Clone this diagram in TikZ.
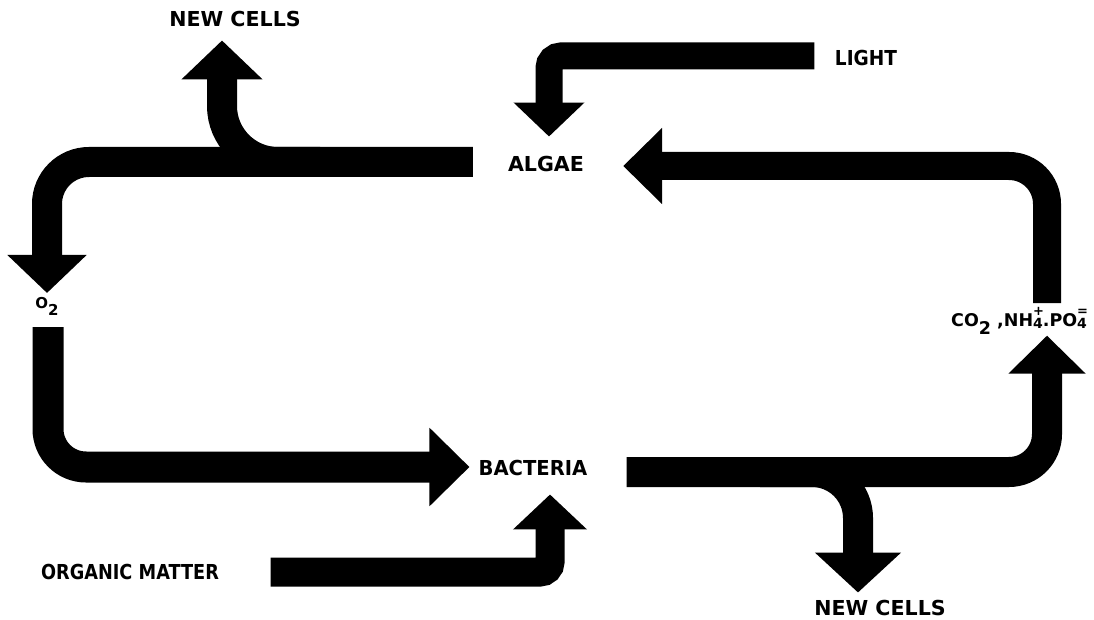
\documentclass[tikz,border=0pt]{standalone}
\usepackage{fontspec}
\setmainfont{DejaVu Sans}
\usetikzlibrary{arrows.meta}
\newcommand\lowsub[1]{\raisebox{-0.45em}{#1}}
\newcommand\stk[2]{\makebox[0pt][l]{\raisebox{0.62em}{\fontsize{13}{13}\selectfont #1}}\raisebox{-0.12em}{\fontsize{14}{14}\selectfont #2}}
\begin{document}
\begin{tikzpicture}[x=1pt,y=-1pt,
  lbl/.style={inner sep=0pt, font=\bfseries\fontsize{20.6}{22}\selectfont},
  small/.style={inner sep=0pt, font=\bfseries\fontsize{17.5}{18}\selectfont},
  flow/.style={draw=black, line width=30pt},
  tipmed/.style={-{Triangle[length=38pt,width=77pt]}}]
\useasboundingbox[fill=white] (0,0) rectangle (1094,620);

% labels
\node[lbl] (newT) at (235,19.5) {NEW CELLS};
\node[lbl] (light) at (866,58) {\scalebox{0.9}[1]{LIGHT}};
\node[lbl] (algae) at (546,164.5) {ALGAE};
\node[inner sep=0pt, anchor=north, font=\bfseries\fontsize{15}{15}\selectfont] (o2) at (47,297) {O\lowsub{2}};
\node[lbl] (bact) at (533,468) {\scalebox{0.95}[1]{BACTERIA}};
\node[lbl] (org) at (130,572) {\scalebox{0.86}[1]{ORGANIC MATTER}};
\node[lbl] (newB) at (880,607.5) {NEW CELLS};
\node[small, anchor=west] (co2) at (951,321) {CO\lowsub{2} ,NH\stk{+}{4}.PO\stk{=}{4}};

% free ends
\coordinate (sC) at (48,327);
\coordinate (sB) at (1047,303);
\coordinate (sG) at (320,162);
\coordinate (sF) at (760,472);

% branch to NEW CELLS (top)
\draw[flow, rounded corners=56pt, -{Triangle[length=39pt,width=79pt]},
      shorten >=13pt] (sG) -| ([xshift=-13pt]newT.south);
% branch to NEW CELLS (bottom)
\draw[flow, rounded corners=46pt, -{Triangle[length=40pt,width=84pt]},
      shorten >=7pt] (sF) -| ([xshift=-22pt]newB.north);
% LIGHT -> ALGAE
\draw[flow, line width=27pt, rounded corners=12pt, -{Triangle[length=34pt,width=69pt]},
      shorten <=20.5pt, shorten >=20pt] ([yshift=2pt]light.west) -| ([xshift=3pt]algae.north);
% CO2 -> ALGAE
\draw[flow, line width=28pt, rounded corners=38pt, -{Triangle[length=39pt,width=74pt]},
      shorten >=39pt] (sB) |- ([yshift=-1.5pt]algae.east);
% ALGAE -> O2
\draw[flow, rounded corners=42pt, tipmed, shorten <=35pt, shorten >=4pt]
      ([yshift=2.5pt]algae.west) -| (o2.north);
% O2 -> BACTERIA
\draw[flow, line width=31pt, rounded corners=38pt, -{Triangle[length=40pt,width=76pt]},
      shorten >=9pt] (sC) |- ([yshift=1pt]bact.west);
% ORGANIC MATTER -> BACTERIA
\draw[flow, line width=29pt, rounded corners=10pt, -{Triangle[length=35pt,width=72pt]},
      shorten <=51.5pt, shorten >=18.5pt] (org.east) -| ([xshift=17pt]bact.south);
% BACTERIA -> CO2
\draw[flow, rounded corners=38pt, -{Triangle[length=38pt,width=75pt]},
      shorten <=39pt, shorten >=1pt] ([yshift=-4pt]bact.east) -| (co2.south -| sB);
\end{tikzpicture}
\end{document}
